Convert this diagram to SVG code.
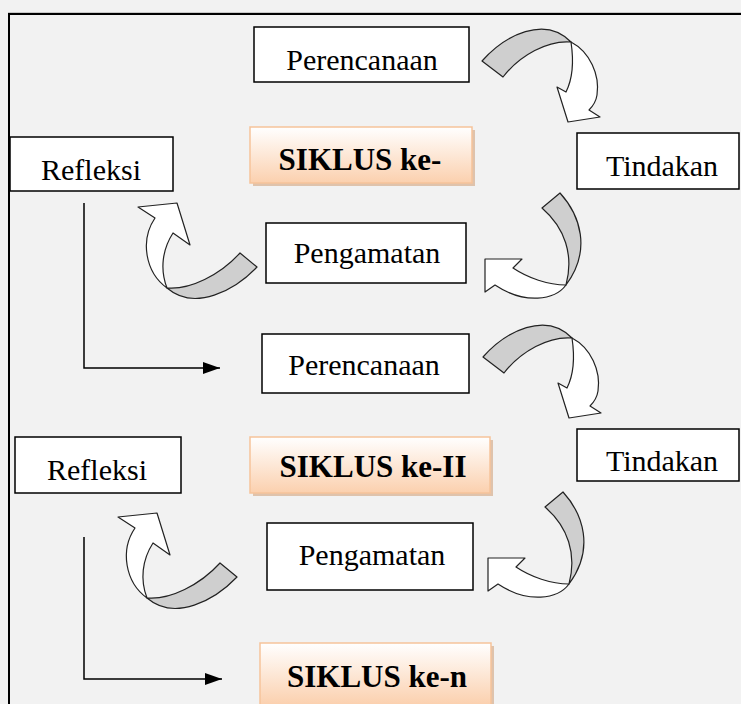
<svg xmlns="http://www.w3.org/2000/svg" width="741" height="704" viewBox="0 0 741 704">
<style>
.box{fill:#ffffff;stroke:#000;stroke-width:1.5}
.lbl{font-family:"Liberation Serif","Times New Roman",serif;font-size:30px;fill:#000;text-anchor:middle}
.sk{fill:url(#peach);stroke:#f6c39a;stroke-width:1.5}
.skshadow{fill:#d9b79a;opacity:0.8}
.skl{font-family:"Liberation Serif","Times New Roman",serif;font-size:31px;font-weight:bold;fill:#000;text-anchor:middle}
.gray{fill:#cfcfcf;stroke:#222;stroke-width:1.2;stroke-linejoin:round}
.white{fill:#ffffff;stroke:#222;stroke-width:1.2;stroke-linejoin:round}
.conn{fill:none;stroke:#000;stroke-width:1.5}
</style>
<defs>
<linearGradient id="peach" x1="0" y1="0" x2="0" y2="1">
<stop offset="0" stop-color="#ffffff"/>
<stop offset="1" stop-color="#fbd0ae"/>
</linearGradient>
<marker id="ah" viewBox="0 0 10 10" refX="10" refY="5" markerWidth="17" markerHeight="12" markerUnits="userSpaceOnUse" orient="auto" preserveAspectRatio="none">
<path d="M0,0 L10,5 L0,10 Z" fill="#000"/>
</marker>
<g id="cw">
<path class="gray" d="M482,61 C505,35 545,15 571,42 C548,40 520,55 503,77 Z"/>
<path class="white" d="M571,42 C590,52 600,75 597,95 C596,102 592,107 589,110 L600,117 L568,122 L557,87 L566,92 C572,80 574,62 571,42 Z"/>
</g>
<g id="dl">
<path class="gray" d="M560,193 C580,215 592,250 566,285 C574,255 565,228 542,208 Z"/>
<path class="white" d="M566,285 C555,300 525,305 495,285 L485,292 L485,259 L522,259 L513,268 C528,278 548,285 566,285 Z"/>
</g>
<g id="up">
<path class="gray" d="M257,267 C235,290 195,312 167,288 C190,290 220,275 240,253 Z"/>
<path class="white" d="M167,288 C145,272 140,240 155,218 L138,207 L177,203 L190,245 L173,233 C162,250 160,270 167,288 Z"/>
</g>
</defs>
<rect x="0" y="0" width="741" height="704" fill="#f2f2f2"/>
<path d="M9,704 V14 H741" fill="none" stroke="#000" stroke-width="2"/>
<line x1="8" y1="12.5" x2="741" y2="12.5" stroke="#c8c8c8" stroke-width="1"/>

<g id="connectors">
<use href="#cw"/>
<use href="#dl"/>
<use href="#up"/>
<use href="#cw" transform="translate(1,296)"/>
<use href="#dl" transform="translate(3,299)"/>
<use href="#up" transform="translate(-20,310)"/>
<path class="conn" d="M84,203 V368 H220" marker-end="url(#ah)"/>
<path class="conn" d="M84,537 V679 H222" marker-end="url(#ah)"/>
</g>

<g id="perencanaan1">
<rect class="box" x="254" y="27" width="215" height="55"/>
<text class="lbl" x="362" y="70">Perencanaan</text>
</g>
<g id="siklus1">
<rect class="skshadow" x="253" y="130" width="222" height="56"/>
<rect class="sk" x="250" y="127" width="222" height="56"/>
<text class="skl" x="360" y="170">SIKLUS ke-</text>
</g>
<g id="refleksi1">
<rect class="box" x="10" y="137" width="163" height="54"/>
<text class="lbl" x="91" y="180">Refleksi</text>
</g>
<g id="tindakan1">
<rect class="box" x="577" y="133" width="162" height="56"/>
<text class="lbl" x="662" y="176">Tindakan</text>
</g>
<g id="pengamatan1">
<rect class="box" x="266" y="223" width="200" height="60"/>
<text class="lbl" x="367" y="263">Pengamatan</text>
</g>
<g id="perencanaan2">
<rect class="box" x="262" y="334" width="207" height="59"/>
<text class="lbl" x="364" y="375">Perencanaan</text>
</g>
<g id="tindakan2">
<rect class="box" x="577" y="429" width="162" height="52"/>
<text class="lbl" x="662" y="471">Tindakan</text>
</g>
<g id="siklus2">
<rect class="skshadow" x="253" y="440" width="240" height="56"/>
<rect class="sk" x="250" y="437" width="240" height="56"/>
<text class="skl" x="373" y="477">SIKLUS ke-II</text>
</g>
<g id="refleksi2">
<rect class="box" x="15" y="437" width="166" height="56"/>
<text class="lbl" x="97" y="480">Refleksi</text>
</g>
<g id="pengamatan2">
<rect class="box" x="267" y="523" width="206" height="67"/>
<text class="lbl" x="372" y="565">Pengamatan</text>
</g>
<g id="sikluskn">
<rect class="skshadow" x="263" y="646" width="231" height="62"/>
<rect class="sk" x="260" y="643" width="231" height="62"/>
<text class="skl" x="377" y="687">SIKLUS ke-n</text>
</g>
</svg>
